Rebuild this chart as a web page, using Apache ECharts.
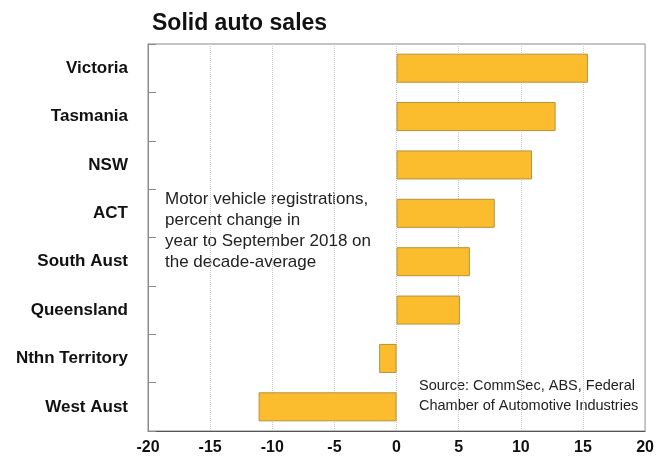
<!DOCTYPE html>
<html>
<head>
<meta charset="utf-8">
<script src="https://cdn.jsdelivr.net/npm/echarts@6/dist/echarts.min.js"></script>
<style>
  html, body { margin: 0; padding: 0; background: #fff; }
  #chart { width: 657px; height: 458px; }
</style>
</head>
<body>
<div id="chart"></div>
<script>
const states = ['Victoria', 'Tasmania', 'NSW', 'ACT', 'South Aust', 'Queensland', 'Nthn Territory', 'West Aust'];
const pctChange = [15.4, 12.8, 10.9, 7.9, 5.9, 5.1, -1.4, -11.1];
const xTicks = [-20, -15, -10, -5, 0, 5, 10, 15, 20];

const chart = echarts.init(document.getElementById('chart'));

const option = {
  animation: false,
  backgroundColor: '#fff',
  title: {
    text: 'Solid auto sales',
    left: 147,
    top: 7,
    textStyle: { fontFamily: 'Liberation Sans', fontSize: 23, fontWeight: 'bold', color: '#111' }
  },
  grid: {
    left: 148, right: 8, top: 44, bottom: 27,
    show: true, borderColor: '#8a8a8a', borderWidth: 1
  },
  xAxis: {
    type: 'value',
    min: xTicks[0],
    max: xTicks[xTicks.length - 1],
    interval: 5,
    axisLine: { show: true, onZero: false, lineStyle: { color: '#555', width: 1 } },
    axisTick: { show: false },
    axisLabel: {
      margin: 9,
      fontFamily: 'Liberation Sans', fontSize: 16, fontWeight: 'bold', color: '#111'
    },
    splitLine: { show: true, lineStyle: { color: '#c8c8c8', type: 'dotted', width: 1 } }
  },
  yAxis: {
    type: 'category',
    data: states,
    inverse: true,
    axisLine: { show: true, onZero: false, lineStyle: { color: '#8a8a8a' } },
    axisTick: { show: true, inside: true, length: 8, lineStyle: { color: '#8a8a8a' } },
    axisLabel: {
      margin: 20,
      fontFamily: 'Liberation Sans', fontSize: 17, fontWeight: 'bold', color: '#111'
    }
  },
  series: [{
    type: 'bar',
    data: pctChange,
    barWidth: '60%',
    itemStyle: { color: '#FBBD2E', borderColor: '#B8913A', borderWidth: 1 }
  }],
  graphic: [
    {
      type: 'text',
      left: 165,
      top: 189,
      style: {
        text: 'Motor vehicle registrations,\npercent change in\nyear to September 2018 on\nthe decade-average',
        font: '17px "Liberation Sans"',
        fill: '#222',
        lineHeight: 21
      }
    },
    {
      type: 'text',
      left: 419,
      top: 376,
      style: {
        text: 'Source: CommSec, ABS, Federal\nChamber of Automotive Industries',
        font: '14.5px "Liberation Sans"',
        fill: '#222',
        lineHeight: 20
      }
    }
  ]
};

chart.setOption(option);
</script>
</body>
</html>
